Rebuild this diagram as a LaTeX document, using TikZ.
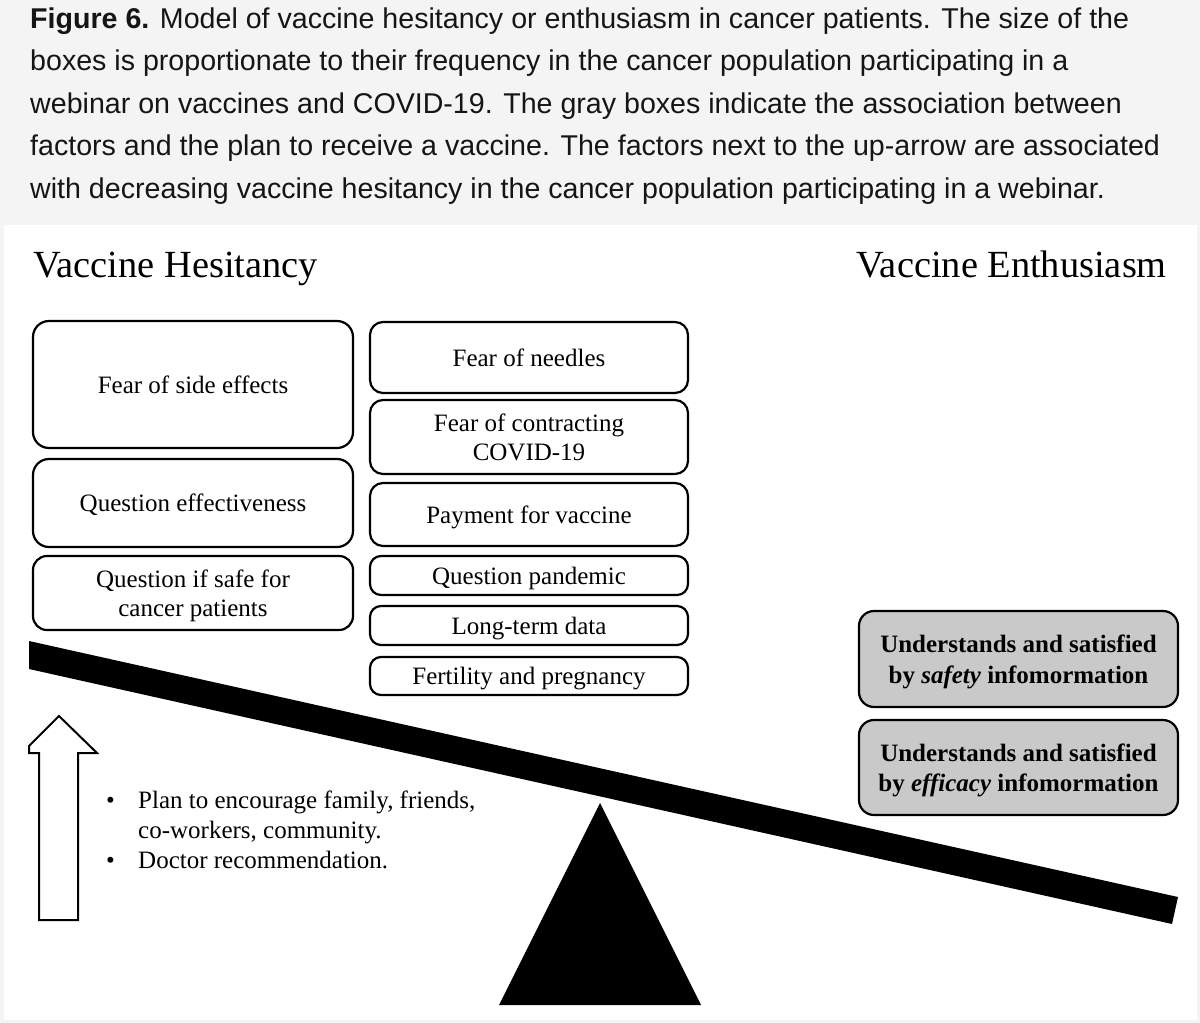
\documentclass[tikz,border=0pt]{standalone}
\usepackage{fontspec}
\setmainfont{Liberation Serif}
\newfontfamily\capfont{Liberation Sans}
\definecolor{capbg}{HTML}{F4F4F4}
\definecolor{captxt}{HTML}{151515}
\definecolor{boxgray}{HTML}{C9C9C9}
\begin{document}
\begin{tikzpicture}[x=1pt,y=-1pt,
  capline/.style={anchor=base west, inner sep=0pt, text=captxt, font=\capfont\fontsize{28.6}{42}\selectfont},
  title/.style={inner sep=0pt, font=\fontsize{38.4}{44}\selectfont},
  factor/.style={draw=black, line width=2.2pt, rounded corners=11pt, align=center, inner sep=0pt,
     text depth=0pt, font=\fontsize{25}{29.5}\selectfont},
  bigfactor/.style={factor, rounded corners=16pt},
  graybox/.style={factor, rounded corners=15pt, fill=boxgray, font=\bfseries\fontsize{25}{30.5}\selectfont},
  bul/.style={anchor=base west, inner sep=0pt, font=\fontsize{25}{30}\selectfont}]
\useasboundingbox (0,0) rectangle (1200,1023);
\fill[capbg] (0,0) rectangle (1200,1023);
\fill[white] (4,225) rectangle (1197,1020);
% caption
\node[capline] (c1) at (30,28) {\textbf{Figure 6.} Model of vaccine hesitancy or enthusiasm in cancer patients. The size of the};
\node[capline] (c2) at (30,70.5) {boxes is proportionate to their frequency in the cancer population participating in a};
\node[capline] (c3) at (30,113) {webinar on vaccines and COVID-19. The gray boxes indicate the association between};
\node[capline] (c4) at (30,155.5) {factors and the plan to receive a vaccine. The factors next to the up-arrow are associated};
\node[capline] (c5) at (30,198) {with decreasing vaccine hesitancy in the cancer population participating in a webinar.};
% titles
\node[title, anchor=base west] (th) at (33,277) {Vaccine Hesitancy};
\node[title, anchor=base east] (te) at (1167,277) {Vaccine Enthusiasm};
% left column
\node[bigfactor, minimum width=320pt, minimum height=127pt] (l1) at (193,384.5) {Fear of side effects};
\node[bigfactor, minimum width=320pt, minimum height=88pt] (l2) at (193,503) {Question effectiveness};
\node[bigfactor, rounded corners=14pt, minimum width=320pt, minimum height=74pt] (l3) at (193,593) {Question if safe for\\cancer patients};
% middle column
\node[factor, rounded corners=13pt, minimum width=318pt, minimum height=71pt] (m1) at (529,357.5) {Fear of needles};
\node[factor, rounded corners=13pt, minimum width=318pt, minimum height=74pt] (m2) at (529,437) {Fear of contracting\\COVID-19};
\node[factor, rounded corners=13pt, minimum width=318pt, minimum height=63pt] (m3) at (529,514.5) {Payment for vaccine};
\node[factor, minimum width=318pt, minimum height=39pt] (m4) at (529,575.5) {Question pandemic};
\node[factor, minimum width=318pt, minimum height=39pt] (m5) at (529,625.5) {Long-term data};
\node[factor, minimum width=318pt, minimum height=38pt] (m6) at (529,676) {Fertility and pregnancy};
% gray boxes
\node[graybox, minimum width=319pt, minimum height=96pt] (g1) at (1018.5,659) {Understands and satisfied\\by \textit{safety} infomormation};
\node[graybox, minimum width=319pt, minimum height=95pt] (g2) at (1018.5,767.5) {Understands and satisfied\\by \textit{efficacy} infomormation};
% beam and fulcrum
\fill[black] (29,641) -- (1178,897) -- (1172,924) -- (29,669) -- cycle;
\fill[black] (600,803) -- (499,1005) -- (701,1005) -- cycle;
% up arrow
\draw[line width=2pt, line join=miter] (59,716) -- (29,746) -- (29,753) -- (39,753) -- (39,920) -- (78,920) -- (78,753) -- (97,753) -- cycle;
% bullets
\node[bul] (b1) at (106,808) {•};
\node[bul] (t1) at (138,808) {Plan to encourage family, friends,};
\node[bul] (t2) at (138,838) {co-workers, community.};
\node[bul] (b2) at (106,868) {•};
\node[bul] (t3) at (138,868) {Doctor recommendation.};
\end{tikzpicture}
\end{document}
